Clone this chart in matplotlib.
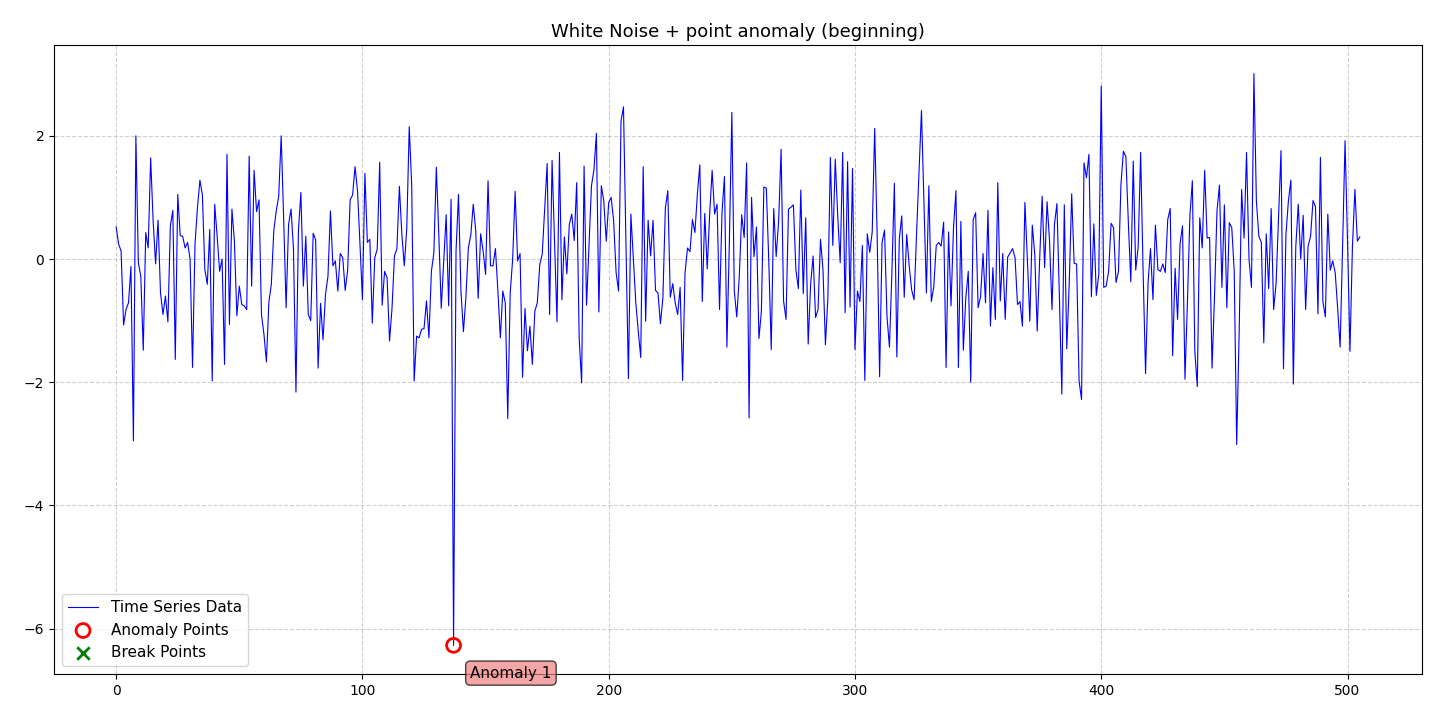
import numpy as np
import matplotlib
matplotlib.use("Agg")
import matplotlib.pyplot as plt

seg_a = [0.52,0.24,0.13,-1.07,-0.82,-0.71,-0.12,-2.95,2.0,-0.06,
         -0.28,-1.48,0.43,0.18,1.64,0.62,-0.08,0.63,-0.55,-0.9,
         -0.6,-1.02,0.54,0.79,-1.63,1.05,0.38,0.37,0.18,0.27,
         0.0,-1.76,0.24,0.83,1.28,1.04,-0.17,-0.41,0.48,-1.98,
         0.89,0.37,-0.2,0.0,-1.71,1.7,-1.06,0.81,0.29,-0.92,
         -0.44,-0.74,-0.76,-0.82,1.67,-0.44,1.44,0.77,0.96,-0.9,
         -1.22,-1.67,-0.7]
seg_b = [-0.41,0.46,0.78,1.02,2.0,0.67,-0.79,0.56,0.81,0.16,
         -2.16,0.46,1.08,-0.44,0.37,-0.9,-1.0,0.42,0.31,-1.77,
         -0.72,-1.31,-0.57,-0.28,0.78,-0.11,-0.03,-0.52,0.09,0.02,
         -0.51,-0.17,0.96,1.04,1.5,1.1,0.24,-0.66,1.39,0.27,
         0.32,-1.04,0.02,0.16,1.57,-0.75,-0.2,-0.3,
         -1.33,-0.8,0.05,0.17,1.18,0.4,-0.11,0.5,2.15,1.2,-1.98,-1.25,-1.28,-1.14]
seg_c = [-1.13,-0.68,-1.28,-0.2,0.1,1.49,0.4,-0.8,-0.03,0.72,
         -0.76,0.97,-6.27,0.13,1.05,-0.52,-1.18,-0.63,0.18,0.39,
         0.89,0.46,-0.64,0.41,0.13,-0.25,1.27,-0.11,-0.11,0.17,
         -0.52,-1.28,-0.52,-0.71,-2.59,-0.55,0.0,1.1,-0.03,0.09,
         -1.92,-0.8,-1.49,-1.09,-1.71,-0.85,-0.71,-0.09,0.08,0.8,
         1.55,-0.9,1.6,0.3,-1.02,1.73,-0.66,0.36,-0.24,0.56,
         0.73,0.3,1.24,-1.28]
seg_d = [-2.01,1.51,-0.75,0.2,1.19,1.45,2.04,-0.86,1.19,0.94,
         0.29,0.92,1.0,0.62,-0.22,-0.52,2.24,2.47,0.3,-1.94,
         0.73,0.02,-0.71,-1.17,-1.6,1.5,-1.01,0.63,0.05,0.63,
         -0.51,-0.55,-1.05,-0.63,0.83,1.11,-0.62,-0.4,-0.71,-0.9,
         -0.46,-1.97,-0.22,0.18,0.12,0.64,0.43,1.05,1.53,-0.69,
         0.74,-0.16,0.73,1.44,0.73,0.89,-0.82,0.75,1.34,-1.43,
         0.29,2.38,-0.52]
seg_e = [-0.94,-0.3,0.72,0.35,1.56,-2.58,1.0,0.04,0.52,-1.29,
         -0.85,1.17,1.15,-0.03,-1.47,0.82,0.04,0.62,1.78,-0.68,
         -0.98,0.81,0.84,0.88,-0.17,-0.48,1.12,-0.56,0.67,-1.38,
         -0.4,0.05,-0.95,-0.82,0.32,-0.17,-1.39,-0.63,1.65,0.22,
         1.62,0.7,-0.06,1.73,-0.87,1.58,-0.78,1.47,-1.47,-0.52,
         -0.69,0.22,-1.97,0.41,0.11,0.44,2.12,0.4,-1.91,0.27,
         0.47,-0.93,-1.43]
seg_f = [-0.2,1.23,-1.59,0.32,0.7,-0.62,0.4,-0.1,-0.5,-0.66,
         0.4,1.4,2.41,0.9,-0.55,1.19,-0.69,-0.45,0.22,0.27,
         0.21,0.6,-1.76,0.44,-0.76,0.5,1.11,-1.76,0.61,-1.48,
         -0.63,-0.2,-2.0,0.64,0.75,-0.79,-0.61,0.09,-0.71,0.79,
         -1.09,-0.14,-0.98,1.24,-0.68,0.09,-0.98,0.03,0.1,0.17,
         0.02,-0.74,-0.69,-1.09,0.92,0.0,-1.01,0.55,0.08,-1.17,
         0.0,1.02,-0.14]
seg_g = [0.93,0.3,-0.82,0.56,0.9,-0.6,-2.19,0.88,-1.46,-0.4,
         1.06,-0.07,-0.08,-1.98,-2.28,1.56,1.32,1.7,-0.61,0.57,
         -0.59,-0.25,2.81,-0.46,-0.44,-0.2,0.58,0.51,-0.38,-0.2,
         1.21,1.75,1.66,0.6,-0.37,1.59,-0.18,0.2,1.73,-0.2,
         -1.86,-0.4,0.17,-0.66,0.55,-0.17,-0.2,-0.08,-0.22,0.64,
         0.82,-1.57,-0.15,-0.98,0.25,0.54,-1.95,-0.7,0.7,1.27,
         -1.5]
seg_h = [-2.07,0.67,0.18,1.44,0.34,0.35,-1.77,-0.6,0.78,1.2,
         -0.46,0.88,-0.79,0.59,0.51,-0.2,-3.01,-1.2,1.13,0.34,
         1.73,0.0,-0.46,3.01,0.94,0.37,0.27,-1.36,0.41,-0.48,
         0.82,-0.82,-0.4,0.7,1.76,-1.78,0.4,0.94,1.28,-2.03,
         0.2,0.89,0.0,0.71,-0.82,0.21,0.37,0.95,0.85,-0.89,
         1.65,-0.69,-0.94,0.73,-0.18,-0.03,-0.22,-0.8,-1.43,0.2,
         1.92,0.3,-1.5,0.2,1.13,0.29,0.36]

values = np.array(seg_a + seg_b + seg_c + seg_d + seg_e + seg_f + seg_g + seg_h)
x = np.arange(len(values))
anomaly_idx = [137]
anomaly_labels = ["Anomaly 1"]
break_idx = []

fig, ax = plt.subplots(figsize=(14.4, 7.2), dpi=100)
fig.subplots_adjust(left=0.0375, right=0.9875, top=0.9375, bottom=0.064)
ax.plot(x, values, color="blue", lw=0.8, label="Time Series Data")
ax.scatter(x[anomaly_idx], values[anomaly_idx], s=100, facecolors="none",
           edgecolors="red", linewidths=2, label="Anomaly Points", zorder=5)
ax.scatter(x[break_idx], values[break_idx] if break_idx else [], marker="x", s=80,
           color="green", linewidths=2, label="Break Points")
for i, lab in zip(anomaly_idx, anomaly_labels):
    ax.annotate(lab, (x[i], values[i]), xytext=(12, -20), textcoords="offset points",
                fontsize=11, ha="left", va="center", annotation_clip=False,
                bbox=dict(boxstyle="round,pad=0.3", fc="lightcoral", alpha=0.7))
ax.set_title("White Noise + point anomaly (beginning)", fontsize=13)
ax.grid(True, linestyle="--", alpha=0.6)
ax.legend(loc="lower left", fontsize=11)
fig.savefig("out.png")
